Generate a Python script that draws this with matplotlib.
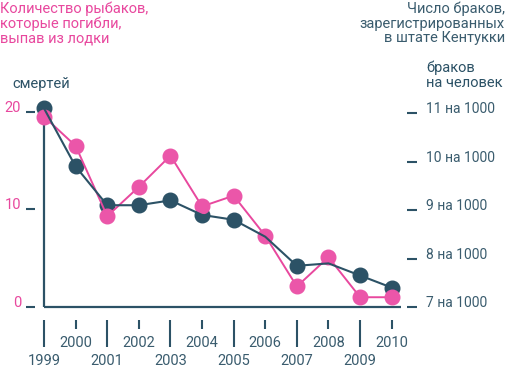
import matplotlib
matplotlib.use("Agg")
import matplotlib.pyplot as plt

plt.rcParams['font.family'] = ['Roboto', 'DejaVu Sans']

years = [1999, 2000, 2001, 2002, 2003, 2004, 2005, 2006, 2007, 2008, 2009, 2010]
deaths = [19.5, 16.5, 9.3, 12.3, 15.5, 10.3, 11.4, 7.3, 2.1, 5.1, 1.0, 1.0]
marriage = [11.1, 9.9, 9.1, 9.1, 9.2, 8.9, 8.8, 8.45, 7.85, 7.9, 7.65, 7.4]
left_ticks = [0, 10, 20]
right_ticks = [7, 8, 9, 10, 11]
title_left = "Количество рыбаков,\nкоторые погибли,\nвыпав из лодки"
title_right = "Число браков,\nзарегистрированных\nв штате Кентукки"
unit_left = "смертей"
unit_right = "браков\nна человек"

PINK = '#E8489E'
PINK_M = '#EB56A9'
DARK = '#2C5266'
DARK_T = '#3A5C6E'
dark_marked = [0, 1, 2, 3, 4, 5, 6, 8, 10, 11]
FW = 'normal'

fig = plt.figure(figsize=(5.05, 3.69), dpi=100)
W, H = 505, 369
ax = fig.add_axes([44 / W, 1 - 307 / H, (391.7 - 44) / W, (307 - 111.7) / H])
ax.set_xlim(years[0], years[-1])
ax.set_ylim(0, 20)
ax.patch.set_alpha(0)

for s in ['top', 'right']:
    ax.spines[s].set_visible(False)
ax.spines['left'].set_position(('outward', 6.5))
ax.spines['left'].set_visible(False)
ax.spines['bottom'].set_position(('outward', 9.4))
ax.spines['bottom'].set_visible(False)

# visible axis lines
ax.vlines(years[0], 0, 20, color=DARK, lw=1.6, zorder=1, clip_on=False)
ax.hlines(0, years[0], years[-1] + 0.3, color=DARK, lw=1.6, zorder=1, clip_on=False)

# left ticks
ax.set_yticks(left_ticks)
ax.set_yticklabels([str(v) for v in left_ticks])
ax.tick_params(axis='y', direction='out', length=6.5, width=1.5, color=DARK,
               labelcolor=PINK, labelsize=10.5, pad=3.5)
for lab in ax.get_yticklabels():
    lab.set_va('baseline')
    lab.set_fontweight(FW)

# x ticks
odd = years[0::2]
even = years[1::2]
ax.set_xticks(odd)
ax.set_xticklabels([str(y) for y in odd])
ax.set_xticks(even, minor=True)
ax.set_xticklabels([str(y) for y in even], minor=True)
ax.tick_params(axis='x', which='major', direction='out', length=19.4, width=1.5,
               color=DARK, labelcolor=DARK_T, labelsize=10.5, pad=5)
ax.tick_params(axis='x', which='minor', direction='out', length=6.5, width=1.5,
               color=DARK, labelcolor=DARK_T, labelsize=10.5, pad=5)
for lab in ax.get_xticklabels() + ax.get_xticklabels(minor=True):
    lab.set_fontweight(FW)

# right axis
ax2 = ax.twinx()
ax2.set_ylim(7, 11.03)
for s in ['top', 'left', 'bottom']:
    ax2.spines[s].set_visible(False)
ax2.spines['right'].set_position(('outward', 11))
ax2.spines['right'].set_visible(False)
ax2.set_yticks(right_ticks)
ax2.set_yticklabels([f"{v} на 1000" for v in right_ticks])
ax2.tick_params(axis='y', direction='out', length=7, width=1.5, color=DARK,
                labelcolor=DARK_T, labelsize=10, pad=6.5)
for lab in ax2.get_yticklabels():
    lab.set_va('baseline')
    lab.set_fontweight(FW)

# data
ax2.set_zorder(ax.get_zorder() + 1)
ax2.patch.set_alpha(0)
ax2.plot(years, marriage, ls='none', marker='o', ms=10.5, mfc=DARK, mec=DARK,
         markevery=dark_marked, zorder=1, clip_on=False)
ax2.plot(years, [7 + d * (11.03 - 7) / 20 for d in deaths], color=PINK, lw=1.4,
         marker='o', ms=10.5, mfc=PINK_M, mec=PINK_M, zorder=1.5, clip_on=False)
ax2.plot(years, marriage, color=DARK, lw=1.5, zorder=2, clip_on=False)

# texts
fig.text(0, 1 - 1.5 / H, title_left, color=PINK, fontsize=10.5, ha='left', va='top',
         linespacing=1.05, fontweight=FW)
fig.text(1.0, 1 - 1.5 / H, title_right, color=DARK_T, fontsize=10.5, ha='right', va='top',
         linespacing=1.05, fontweight=FW, multialignment='right')
fig.text(12 / W, 1 - 88 / H, unit_left, color=DARK, fontsize=10.5, ha='left',
         va='baseline', fontweight=FW)
fig.text(426 / W, 1 - 87 / H, unit_right, color=DARK, fontsize=10.5, ha='left',
         va='baseline', linespacing=1.05, fontweight=FW)

fig.savefig('out.png', dpi=100)
